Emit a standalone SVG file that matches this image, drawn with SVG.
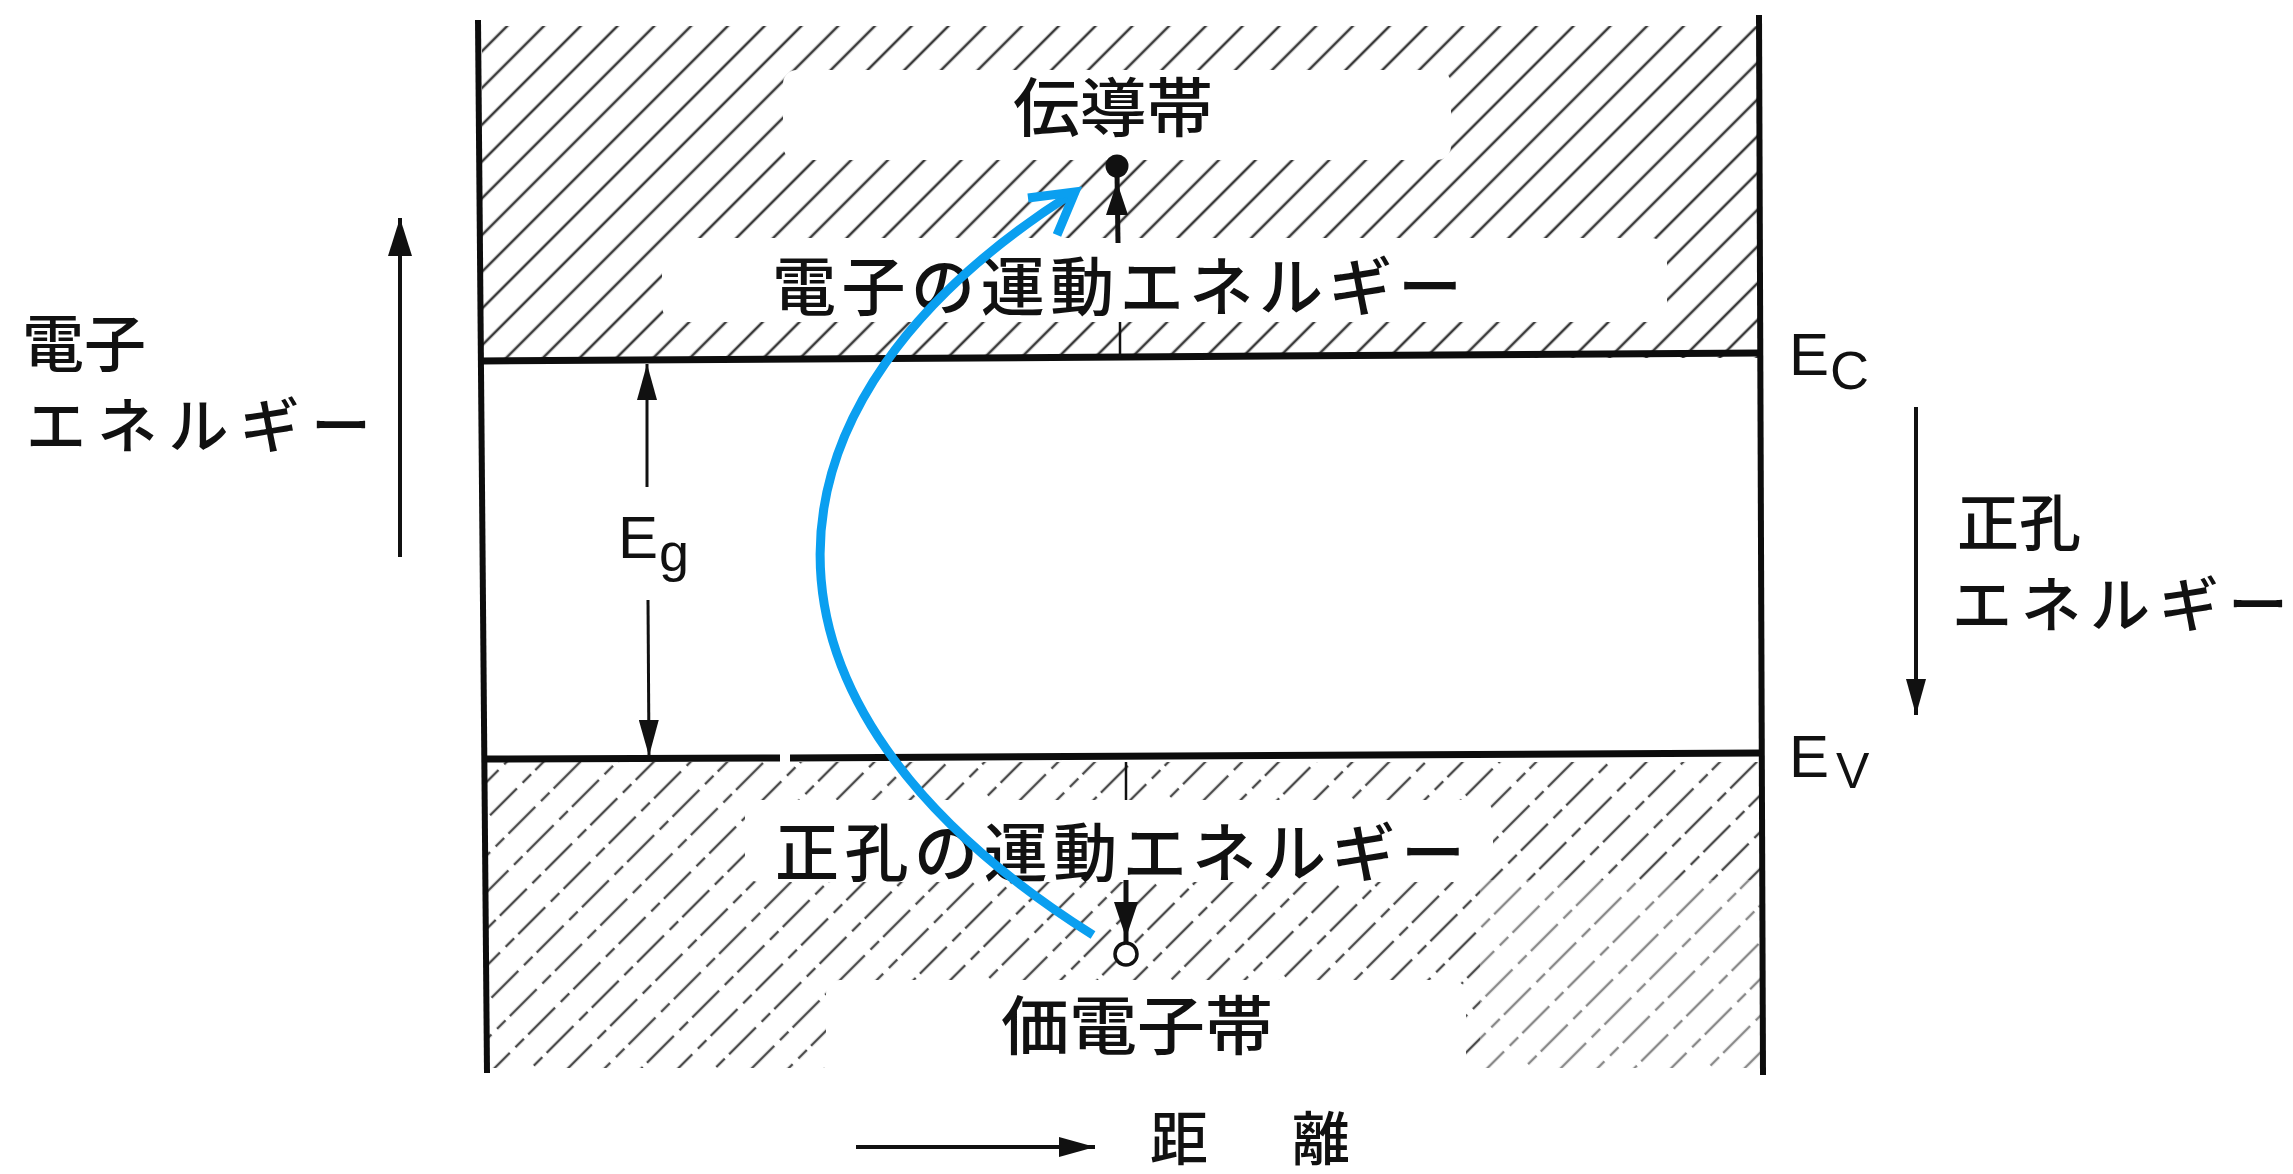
<svg xmlns="http://www.w3.org/2000/svg" width="2293" height="1174" viewBox="0 0 2293 1174">
  <style>
    .jp { font-family: "Noto Sans CJK JP", "Noto Sans", sans-serif; font-weight: 500; fill: #111; }
    .lat { font-family: "Liberation Sans", "DejaVu Sans", sans-serif; fill: #111; }
    .frame { stroke: #0d0d0d; stroke-width: 6; fill: none; }
    .level { stroke: #0d0d0d; stroke-width: 7; fill: none; }
    .thin { stroke: #111; stroke-width: 3; fill: none; }
    .axis { stroke: #111; stroke-width: 4; fill: none; }
    .erase { fill: #fff; }
    .blue { stroke: #0a9ff0; stroke-width: 9; fill: none; }
  </style>
  <defs>
    <!-- diagonal hatching for the filled bands -->
    <pattern id="hatchTop" patternUnits="userSpaceOnUse" width="26" height="26" patternTransform="rotate(45)">
      <line x1="13" y1="0" x2="13" y2="26" stroke="#3a3a3a" stroke-width="2.6"/>
    </pattern>
    <pattern id="hatchBottom" patternUnits="userSpaceOnUse" width="26" height="64" patternTransform="rotate(45)">
      <line x1="13" y1="0" x2="13" y2="64" stroke="#4a4a4a" stroke-width="2.4" stroke-dasharray="38 6 12 8"/>
    </pattern>
    <marker id="head" viewBox="0 0 36 20" refX="36" refY="10" markerUnits="userSpaceOnUse" markerWidth="36" markerHeight="20" orient="auto">
      <path d="M0,0 L36,10 L0,20 Z" fill="#111"/>
    </marker>
    <marker id="headWide" viewBox="0 0 38 24" refX="38" refY="12" markerUnits="userSpaceOnUse" markerWidth="38" markerHeight="24" orient="auto">
      <path d="M0,0 L38,12 L0,24 Z" fill="#111"/>
    </marker>
  </defs>

  <rect width="2293" height="1174" fill="#fff"/>

  <!-- conduction band (hatched) -->
  <g id="band-conduction">
    <rect x="482" y="26" width="1276" height="332" fill="url(#hatchTop)"/>
    <rect class="erase" x="783" y="70" width="668" height="90" rx="14"/>
    <rect class="erase" x="662" y="238" width="1005" height="84" rx="16"/>
    <text class="jp" x="1113" y="103" font-size="64" text-anchor="middle" dominant-baseline="central" textLength="200" lengthAdjust="spacingAndGlyphs">伝導帯</text>
    <text class="jp" x="1117" y="282" font-size="64" text-anchor="middle" dominant-baseline="central" textLength="690" lengthAdjust="spacing">電子の運動エネルギー</text>
  </g>

  <!-- valence band (hatched) -->
  <g id="band-valence">
    <rect x="486" y="762" width="1274" height="306" fill="url(#hatchBottom)"/>
    <rect x="1480" y="880" width="280" height="190" fill="#fff" opacity="0.35"/>
    <rect class="erase" x="745" y="800" width="748" height="82" rx="14"/>
    <rect class="erase" x="826" y="980" width="640" height="95" rx="14"/>
    <text class="jp" x="1120" y="848" font-size="64" text-anchor="middle" dominant-baseline="central" textLength="690" lengthAdjust="spacing">正孔の運動エネルギー</text>
    <text class="jp" x="1137" y="1021" font-size="64" text-anchor="middle" dominant-baseline="central" textLength="272" lengthAdjust="spacingAndGlyphs">価電子帯</text>
  </g>

  <!-- side walls -->
  <g id="frame">
    <line class="frame" x1="478" y1="20" x2="487" y2="1073"/>
    <line class="frame" x1="1759" y1="15" x2="1763" y2="1075"/>
  </g>

  <!-- band edges -->
  <g id="level-ec">
    <line class="level" x1="480" y1="361" x2="1760" y2="353"/>
    <text class="lat" x="1789" y="375" font-size="60">E<tspan x="1830" y="389" font-size="54">C</tspan></text>
  </g>
  <g id="level-ev">
    <line class="level" x1="484" y1="759" x2="780" y2="758"/>
    <line class="level" x1="790" y1="758" x2="1762" y2="753"/>
    <text class="lat" x="1789" y="777" font-size="60">E<tspan x="1836" y="788" font-size="50">V</tspan></text>
  </g>

  <!-- band gap label -->
  <g id="label-eg">
    <text class="lat" x="618" y="558" font-size="60">E<tspan x="659" y="571" font-size="54">g</tspan></text>
  </g>

  <!-- electron in the conduction band -->
  <g id="electron">
    <line x1="1117" y1="172" x2="1118" y2="243" stroke="#111" stroke-width="5"/>
    <polygon points="1117,182 1128,215 1106,215" fill="#111"/>
    <circle cx="1117" cy="166" r="11.5" fill="#111"/>
    <line x1="1120" y1="322" x2="1120" y2="357" stroke="#111" stroke-width="2.5"/>
  </g>

  <!-- hole in the valence band -->
  <g id="hole">
    <line x1="1126" y1="880" x2="1126" y2="943" stroke="#111" stroke-width="5"/>
    <polygon points="1114,902 1138,902 1126,938" fill="#111"/>
    <circle cx="1126" cy="954" r="11" fill="#fff" stroke="#111" stroke-width="3.5"/>
    <line x1="1126" y1="762" x2="1126" y2="800" stroke="#111" stroke-width="2.5"/>
  </g>

  <!-- axis captions -->
  <g id="label-electron-energy">
    <text class="jp" font-size="62" dominant-baseline="central"><tspan x="22" y="340">電子</tspan><tspan x="26" y="421" font-size="60" textLength="345" lengthAdjust="spacing">エネルギー</tspan></text>
  </g>
  <g id="label-hole-energy">
    <text class="jp" font-size="62" dominant-baseline="central"><tspan x="1957" y="519">正孔</tspan><tspan x="1952" y="600" font-size="60" textLength="336" lengthAdjust="spacing">エネルギー</tspan></text>
  </g>
  <g id="label-distance">
    <text class="jp" x="1150" y="1135" font-size="58" dominant-baseline="central" textLength="200" lengthAdjust="spacing">距　離</text>
  </g>

  <!-- arrows and the excitation path -->
  <g id="connectors">
    <line class="thin" x1="647" y1="487" x2="647" y2="364" marker-end="url(#head)"/>
    <line class="thin" x1="648" y1="600" x2="649" y2="756" marker-end="url(#head)"/>
    <line class="axis" x1="400" y1="557" x2="400" y2="218" marker-end="url(#headWide)"/>
    <line class="axis" x1="1916" y1="407" x2="1916" y2="715" marker-end="url(#head)"/>
    <line class="axis" x1="856" y1="1147" x2="1095" y2="1147" stroke-width="5" marker-end="url(#head)"/>
    <path class="blue" d="M1093,935 C720,700 745,400 1073,193"/>
    <polyline class="blue" points="1028,198 1075,192 1057,235" stroke-linejoin="miter"/>
  </g>
</svg>
